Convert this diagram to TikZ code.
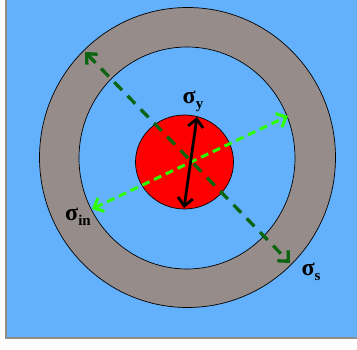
\documentclass[tikz,border=0pt]{standalone}
\usepackage{fontspec}
\setmainfont{Liberation Serif}
\usepackage{tikz}
\usetikzlibrary{arrows.meta,shapes.geometric}
\definecolor{skyblue}{HTML}{63B1FC}
\definecolor{ringgray}{HTML}{968C8A}
\definecolor{coregreen}{HTML}{0A6410}
\definecolor{limegreen}{HTML}{2EFF00}
\definecolor{framegray}{HTML}{8E8E8E}
\newcommand{\sig}[1]{\textbf{σ}\raisebox{-5pt}{\fontsize{15}{16}\selectfont\textbf{#1}}}

\begin{document}
\begin{tikzpicture}[x=1pt, y=-1pt,
  every node/.style={font=\fontsize{24}{26}\selectfont\bfseries},
  disk/.style={ellipse, draw=black, line width=0.7pt, inner sep=0pt},
  barbs/.style={{Straight Barb[length=8pt,width=15pt]}-{Straight Barb[length=8pt,width=15pt]}},
  farrow/.style={barbs, line width=3.3pt, draw=coregreen, dash pattern=on 11pt off 8pt},
  narrow/.style={barbs, line width=3pt, draw=limegreen, dash pattern=on 8pt off 5pt},
  yarrow/.style={barbs, line width=2.8pt, draw=black}
]
\useasboundingbox (0,0) rectangle (357,350);
% slide background
\fill[skyblue] (6,0) rectangle (357,338);
\draw[framegray, line width=1.4pt] (6,0) -- (6,338) -- (357,338);
% ring, cavity and core
\node[disk, fill=ringgray, minimum width=296pt, minimum height=300pt] (outer) at (187.5,157.5) {};
\node[disk, fill=skyblue, minimum width=216pt, minimum height=222pt] (inner) at (187,158) {};
\node[disk, fill=red, minimum width=98pt, minimum height=94pt] (core) at (184.5,162) {};
% arrow ends
\coordinate (sA) at (85,52);
\coordinate (sB) at (290,263);
\coordinate (iA) at (92,209);
\coordinate (iB) at (288,116);
\coordinate (yA) at (184,208);
\coordinate (yB) at (197,117);
\draw[farrow] (sA) -- (sB);
\draw[narrow] (iA) -- (iB);
\draw[yarrow] (yA) -- (yB);
% labels
\node (sigy) at (193,101) {\sig{y}};
\node (sigin) at (78,217) {\sig{in}};
\node (sigs) at (311,272) {\sig{s}};
\end{tikzpicture}
\end{document}
